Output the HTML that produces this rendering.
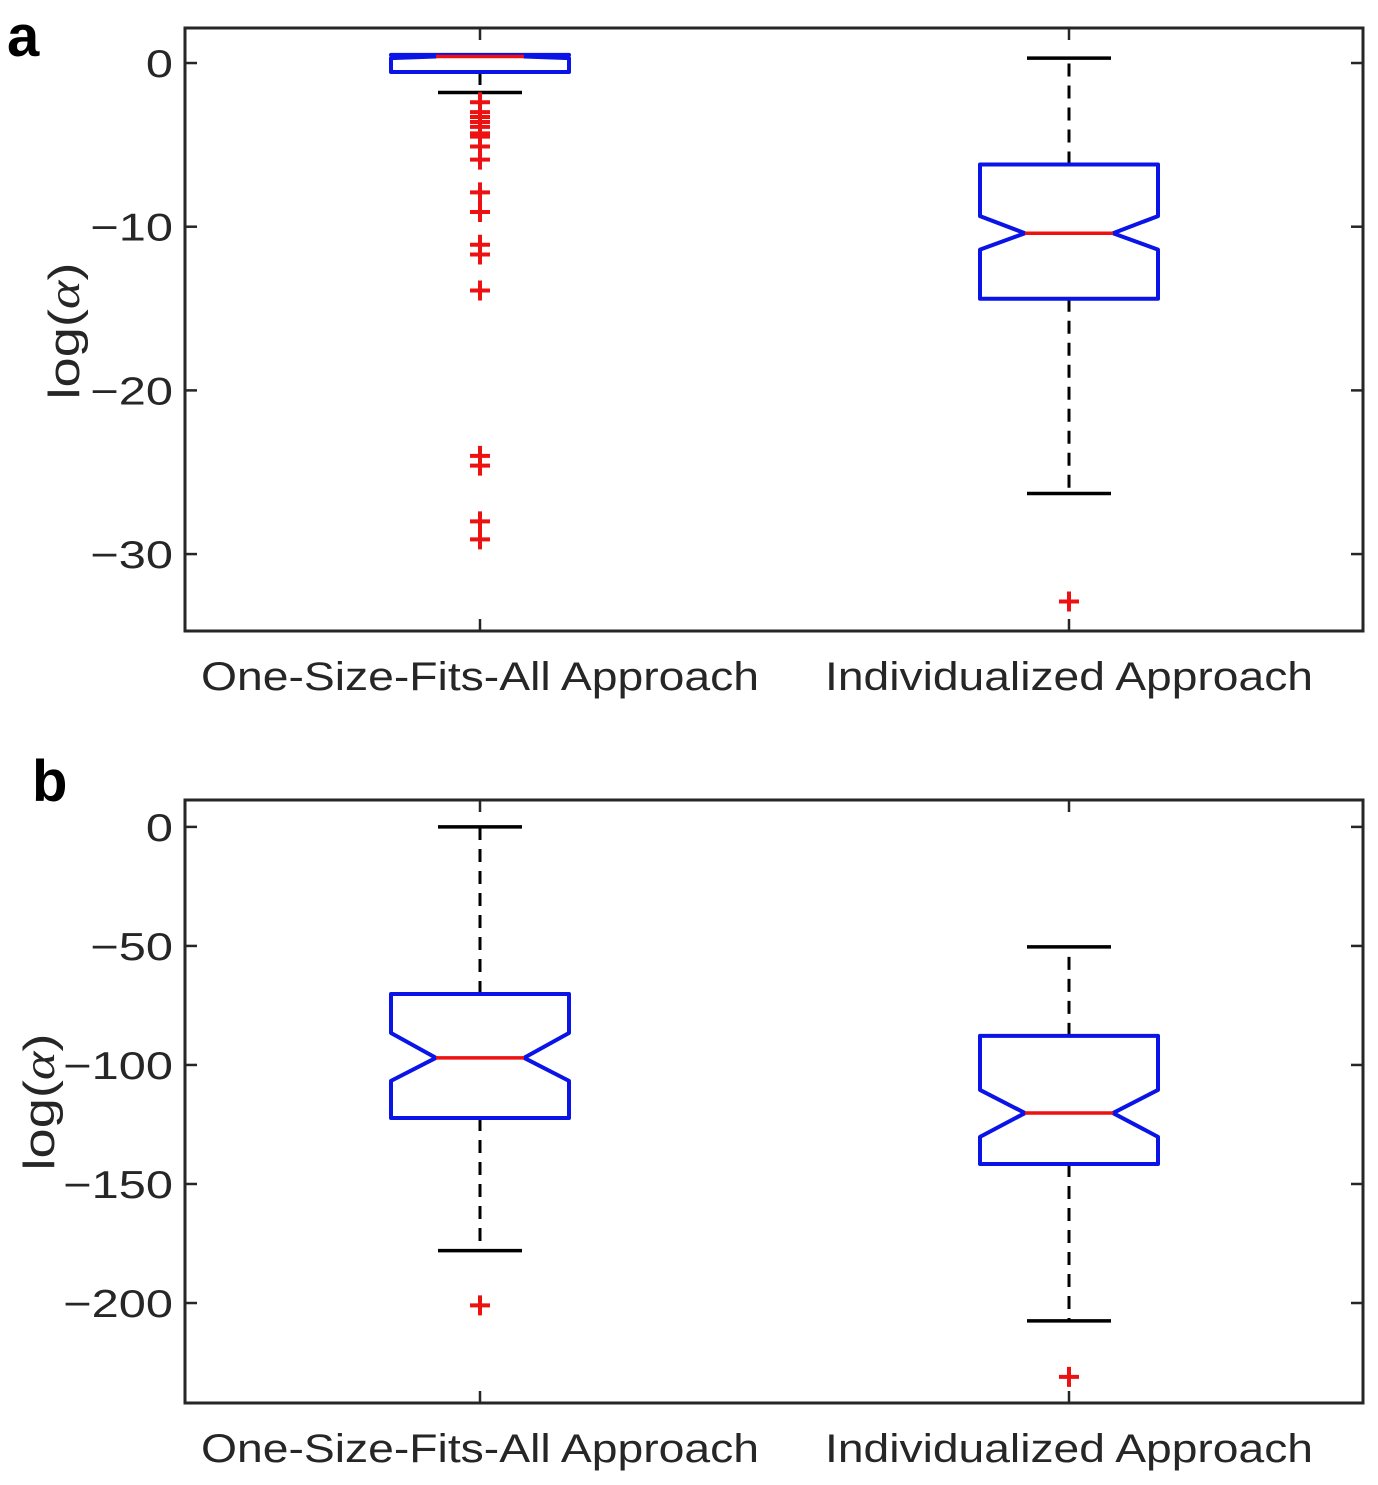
<!DOCTYPE html>
<html><head><meta charset="utf-8"><style>
html,body{margin:0;padding:0;background:#fff;}
svg{display:block;font-family:"Liberation Sans",Arial,sans-serif;}
</style></head><body>
<svg id="fig" width="1378" height="1485" viewBox="0 0 1378 1485" xmlns="http://www.w3.org/2000/svg"></svg>
<script>
// ---- data ----
const categories = ["One-Size-Fits-All Approach", "Individualized Approach"];
// panel a
const aTicks = [0, -10, -20, -30];
const aTickLabels = ["0", "\u221210", "\u221220", "\u221230"];
const aQ1 = [-0.55, -14.4];
const aQ3 = [0.5, -6.2];
const aMedian = [0.4, -10.4];
const aNotchLo = [0.3, -11.4];
const aNotchHi = [0.5, -9.35];
const aWhiskerLo = [-1.8, -26.3];
const aWhiskerHi = [0.5, 0.3];
const aOutliers0 = [-2.4, -3.0, -3.3, -3.6, -3.9, -4.3, -4.5, -5.1, -5.9, -7.9, -9.1, -11.1, -11.7, -13.9, -24.0, -24.6, -28.0, -29.1];
const aOutliers1 = [-32.9];
// panel b
const bTicks = [0, -50, -100, -150, -200];
const bTickLabels = ["0", "\u221250", "\u2212100", "\u2212150", "\u2212200"];
const bQ1 = [-122.3, -141.6];
const bQ3 = [-70.2, -87.8];
const bMedian = [-97, -120.2];
const bNotchLo = [-106.7, -130.2];
const bNotchHi = [-86.6, -110.5];
const bWhiskerLo = [-178, -207.5];
const bWhiskerHi = [0, -50.4];
const bOutliers0 = [-201];
const bOutliers1 = [-231];

const NS = "http://www.w3.org/2000/svg";
const svg = document.getElementById('fig');
function mk(tag, attrs, parent) {
  const e = document.createElementNS(NS, tag);
  for (const k in attrs) e.setAttribute(k, attrs[k]);
  (parent || svg).appendChild(e);
  return e;
}
function stretch(t, f) {
  const w = t.getComputedTextLength();
  t.setAttribute('textLength', (w * f).toFixed(1));
  t.setAttribute('lengthAdjust', 'spacingAndGlyphs');
}
const X0 = 185, X1 = 1363;
const xCenters = [480, 1069];
const halfW = 89, notchIn = 44, capHalf = 42;

function panel(cfg) {
  const g = mk('g', {});
  
  
  const y = v => cfg.top + (cfg.yMax - v) / (cfg.yMax - cfg.yMin) * (cfg.bottom - cfg.top);
  const L = mk('text', {x: cfg.letterX, y: cfg.letterY, 'font-size': 58, 'font-weight': 'bold', fill: '#000'}, g);
  L.textContent = cfg.letter;
  
  
  cfg.ticks.forEach((t, i) => {
    const yy = y(t);
    const tl = mk('line', {x1: X0, x2: X0 + 12, y1: yy, y2: yy, stroke: '#262626', 'stroke-width': 2.5}, g);
    
    
    const tr = mk('line', {x1: X1 - 12, x2: X1, y1: yy, y2: yy, stroke: '#262626', 'stroke-width': 2.5}, g);
    
    
    const tx = mk('text', {x: X0 - 12, y: yy + 14, 'font-size': 39, fill: '#262626', 'text-anchor': 'end'}, g);
    tx.textContent = cfg.tickLabels[i];
    
    
    stretch(tx, 1.25);
  });
  const cy = cfg.titleCy;
  const yt = mk('text', {x: 0, y: 0, 'font-size': 44, fill: '#262626', 'text-anchor': 'middle',
    transform: `translate(${cfg.titleX},${cy}) rotate(-90)`}, g);
  yt.innerHTML = 'log(<tspan font-family="Liberation Serif, serif" font-style="italic">\u03b1</tspan>)';
  
  
  yt.setAttribute('textLength', 137);
  yt.setAttribute('lengthAdjust', 'spacingAndGlyphs');
  const widths = [558, 488];
  xCenters.forEach((cx, i) => {
    const t1 = mk('line', {x1: cx, x2: cx, y1: cfg.bottom, y2: cfg.bottom - 12, stroke: '#262626', 'stroke-width': 2.5}, g);
    
    
    const t2 = mk('line', {x1: cx, x2: cx, y1: cfg.top, y2: cfg.top + 12, stroke: '#262626', 'stroke-width': 2.5}, g);
    
    
    const lx = mk('text', {x: cx, y: cfg.bottom + 59, 'font-size': 40, fill: '#262626', 'text-anchor': 'middle',
      textLength: widths[i], lengthAdjust: 'spacingAndGlyphs'}, g);
    lx.textContent = categories[i];
    
    
  });
  xCenters.forEach((cx, i) => {
    const bg = mk('g', {}, g);
    
    
    const w1 = mk('line', {x1: cx, x2: cx, y1: y(cfg.q3[i]), y2: y(cfg.wHi[i]), stroke: '#000', 'stroke-width': 3, 'stroke-dasharray': '13,9'}, bg);
    
    
    const w2 = mk('line', {x1: cx, x2: cx, y1: y(cfg.q1[i]), y2: y(cfg.wLo[i]), stroke: '#000', 'stroke-width': 3, 'stroke-dasharray': '13,9'}, bg);
    
    
    const c1 = mk('line', {x1: cx - capHalf, x2: cx + capHalf, y1: y(cfg.wHi[i]), y2: y(cfg.wHi[i]), stroke: '#000', 'stroke-width': 3.5}, bg);
    
    
    const c2 = mk('line', {x1: cx - capHalf, x2: cx + capHalf, y1: y(cfg.wLo[i]), y2: y(cfg.wLo[i]), stroke: '#000', 'stroke-width': 3.5}, bg);
    
    
    const l = cx - halfW, r = cx + halfW, li = cx - notchIn, ri = cx + notchIn;
    const yq3 = y(cfg.q3[i]), yq1 = y(cfg.q1[i]), ym = y(cfg.med[i]), ynh = y(cfg.nHi[i]), ynl = y(cfg.nLo[i]);
    const pts = [[l, yq3], [r, yq3], [r, ynh], [ri, ym], [r, ynl], [r, yq1], [l, yq1], [l, ynl], [li, ym], [l, ynh]];
    const box = mk('polygon', {points: pts.map(p => p.join(',')).join(' '), fill: 'none', stroke: '#0a14e6', 'stroke-width': 4, 'stroke-linejoin': 'round'}, bg);
    
    
    const md = mk('line', {x1: li, x2: ri, y1: ym, y2: ym, stroke: '#ee1111', 'stroke-width': 3.5}, bg);
    
    
    cfg.out[i].forEach(v => {
      const yy = y(v);
      const o = mk('path', {d: `M${cx - 10},${yy}H${cx + 10}M${cx},${yy - 10}V${yy + 10}`, stroke: '#ee1111', 'stroke-width': 4}, bg);
      
      
    });
  });
  const fr = mk('rect', {x: X0, y: cfg.top, width: X1 - X0, height: cfg.bottom - cfg.top, fill: 'none', stroke: '#262626', 'stroke-width': 3}, g);
  
  
}

panel({name: 'panel-a', letter: 'a', letterX: 7, letterY: 56, top: 28, bottom: 631,
  yMax: 2.14, yMin: -34.7, ticks: aTicks, tickLabels: aTickLabels, titleX: 79, titleCy: 331,
  q1: aQ1, q3: aQ3, med: aMedian, nLo: aNotchLo, nHi: aNotchHi, wLo: aWhiskerLo, wHi: aWhiskerHi,
  out: [aOutliers0, aOutliers1]});
panel({name: 'panel-b', letter: 'b', letterX: 32, letterY: 801, top: 800, bottom: 1403,
  yMax: 11.3, yMin: -242, ticks: bTicks, tickLabels: bTickLabels, titleX: 54, titleCy: 1102,
  q1: bQ1, q3: bQ3, med: bMedian, nLo: bNotchLo, nHi: bNotchHi, wLo: bWhiskerLo, wHi: bWhiskerHi,
  out: [bOutliers0, bOutliers1]});
</script>
</body></html>
